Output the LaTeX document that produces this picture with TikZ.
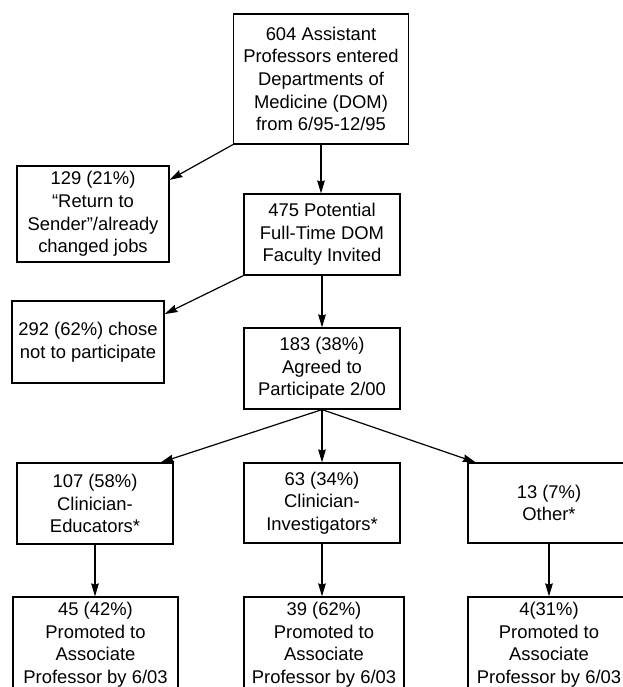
\documentclass[tikz,border=0pt]{standalone}
\usepackage{fontspec}
\setmainfont{Liberation Sans}
\usetikzlibrary{arrows.meta}

\begin{document}
\begin{tikzpicture}[x=0.75pt, y=-0.75pt,
		box/.style={draw, line width=0.9pt, align=center, inner sep=0pt,
			font=\fontsize{13.8}{17}\selectfont},
		arr/.style={-{Stealth[length=9.75pt,width=5.75pt,inset=1pt]}, line width=0.9pt}]
		\useasboundingbox (0,0) rectangle (623,687);
		\clip (0,0) rectangle (623,687);
		% main column
		\node [box, minimum width=131.25pt, minimum height=97.5pt] (entered) at (321,79)
			{604 Assistant\\Professors entered\\Departments of\\Medicine (DOM)\\from 6/95-12/95};
		\node [box, minimum width=117pt, minimum height=60.75pt] (invited) at (322,234.5)
			{475 Potential\\Full-Time DOM\\Faculty Invited};
		\node [box, minimum width=117pt, minimum height=60.75pt] (agreed) at (322,368.5)
			{183 (38\%)\\Agreed to\\Participate 2/00};
		% drop-outs
		\node [box, minimum width=114pt, minimum height=72pt] (returned) at (93,214)
			{129 (21\%)\\``Return to\\Sender''/already\\changed jobs};
		\node [box, minimum width=114pt, minimum height=61.5pt] (declined) at (88,342)
			{292 (62\%) chose\\not to participate};
		% tracks
		\node [box, minimum width=117pt, minimum height=60.75pt] (educ) at (95,503.5)
			{107 (58\%)\\Clinician-\\Educators*};
		\node [box, minimum width=117pt, minimum height=60pt] (invest) at (322,503)
			{63 (34\%)\\Clinician-\\Investigators*};
		\node [box, minimum width=121.5pt, minimum height=60pt] (other) at (549,503)
			{13 (7\%)\\Other*};
		% promoted (cut off at the bottom)
		\node [box, minimum width=123.75pt, minimum height=85.5pt] (promeduc) at (95.5,654)
			{45 (42\%)\\Promoted to\\Associate\\Professor by 6/03\\\mbox{}};
		\node [box, minimum width=120pt, minimum height=85.5pt] (prominvest) at (324,654)
			{39 (62\%)\\Promoted to\\Associate\\Professor by 6/03\\\mbox{}};
		\node [box, minimum width=121.5pt, minimum height=85.5pt] (promother) at (549,654)
			{4(31\%)\\Promoted to\\Associate\\Professor by 6/03\\\mbox{}};

		\draw [arr] (entered.south) -- (entered.south |- invited.north);
		\draw [arr] (entered.south west) -- (returned.24);
		\draw [arr] (invited.south) -- (invited.south |- agreed.north);
		\draw [arr] (invited.south west) -- (declined.20);
		\draw [arr] (agreed.south) -- (educ.32);
		\draw [arr] (agreed.south) -- (invest.north);
		\draw [arr] (agreed.south) -- (other.151);
		\draw [arr] (educ.south) -- (educ.south |- promeduc.north);
		\draw [arr] (invest.south) -- (invest.south |- prominvest.north);
		\draw [arr] (other.south) -- (other.south |- promother.north);
	\end{tikzpicture}
\end{document}
